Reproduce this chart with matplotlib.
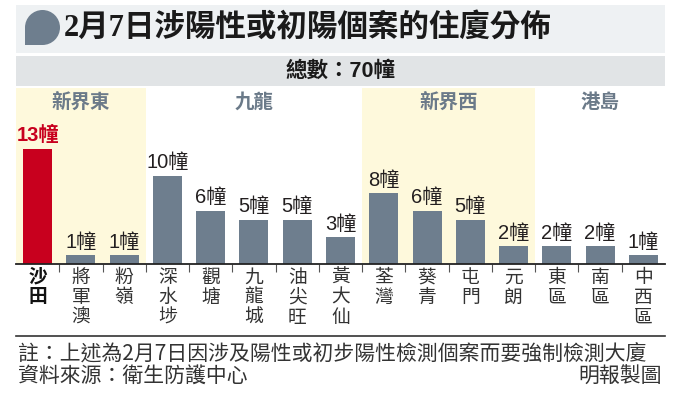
import matplotlib
matplotlib.use("Agg")
import matplotlib.pyplot as plt
from matplotlib.patches import Rectangle, Ellipse

# ---------------- data ----------------
categories = ['沙田', '將軍澳', '粉嶺', '深水埗', '觀塘', '九龍城', '油尖旺', '黃大仙',
              '荃灣', '葵青', '屯門', '元朗', '東區', '南區', '中西區']
values = [13, 1, 1, 10, 6, 5, 5, 3, 8, 6, 5, 2, 2, 2, 1]
regions = ['新界東', '九龍', '新界西', '港島']
region_sizes = [3, 5, 4, 3]
highlight = '沙田'
title = '2月7日涉陽性或初陽個案的住廈分佈'
total_label = '總數：70幢'
unit = '幢'
note1 = '註：上述為2月7日因涉及陽性或初步陽性檢測個案而要強制檢測大廈'
note2 = '資料來源：衛生防護中心'
credit = '明報製圖'

# ---------------- style ----------------
W, H = 677, 395
CJK = 'Noto Sans CJK TC'
BAR = '#6e7e8e'
RED = '#c8001e'
YELLOW = '#fef9dc'
REGION_C = '#6b7a89'

fig = plt.figure(figsize=(W / 100, H / 100), dpi=100)
fig.patch.set_facecolor('white')


def fx(px):
    return px / W


def fy(py):
    return 1 - py / H


# header bands
fig.patches.append(Rectangle((fx(16), fy(53)), fx(649), 48 / H, transform=fig.transFigure,
                             facecolor='#eef1f3', edgecolor='none', zorder=0))
fig.patches.append(Rectangle((fx(16), fy(86)), fx(649), 30 / H, transform=fig.transFigure,
                             facecolor='#e1e4e6', edgecolor='none', zorder=0))
# icon
fig.patches.append(Ellipse((fx(42.5), fy(27.5)), 35 / W, 35 / H, transform=fig.transFigure,
                           facecolor=BAR, edgecolor='none', zorder=1))
fig.patches.append(Rectangle((fx(25), fy(45)), 17.5 / W, 17.5 / H, transform=fig.transFigure,
                             facecolor=BAR, edgecolor='none', zorder=1))

fig.text(fx(64), fy(28), title, fontsize=22, fontweight='bold', color='#1a1a1a',
         family=['Liberation Serif', CJK], ha='left', va='center')
fig.text(fx(341), fy(71), total_label, fontsize=15.5, fontweight='bold', color='#1a1a1a',
         family=['Liberation Sans', CJK], ha='center', va='center')

# ---------------- chart ----------------
ax_left, ax_right, ax_top, ax_bot = 16, 665, 88, 264
ax = fig.add_axes([fx(ax_left), fy(ax_bot), (ax_right - ax_left) / W, (ax_bot - ax_top) / H])
ax.set_facecolor('white')
n = len(categories)
ax.set_xlim(-0.5, n - 0.5)
ppu = 8.85
ax.set_ylim(0, (ax_bot - ax_top) / ppu)

xs = list(range(n))
colors = [RED if c == highlight else BAR for c in categories]
ax.bar(xs, values, width=0.67, color=colors, zorder=2)

# region shading + labels
start = 0
for i, (r, s) in enumerate(zip(regions, region_sizes)):
    if i % 2 == 0:
        ax.axvspan(start - 0.5, start + s - 0.5, color=YELLOW, zorder=0, lw=0)
    ax.text(start + (s - 1) / 2, (ax_bot - 102) / (ax_bot - ax_top), r,
            transform=ax.get_xaxis_transform(), ha='center', va='center',
            fontsize=14, fontweight='bold', color=REGION_C, family=CJK)
    start += s

# value labels
for x, v, c in zip(xs, values, categories):
    hl = c == highlight
    ax.annotate(f'{v}{unit}', (x, v), xytext=(0, 2.5), textcoords='offset points',
                ha='center', va='bottom', fontsize=14.5,
                fontweight='bold' if hl else 'normal',
                color=RED if hl else '#231f20',
                family=['Liberation Sans', CJK])

# category labels (vertical)
for x, c in zip(xs, categories):
    hl = c == highlight
    for j, ch in enumerate(c):
        py = 277 + 20 * j
        ax.text(x, (ax_bot - py) / (ax_bot - ax_top), ch, transform=ax.get_xaxis_transform(),
                ha='center', va='center', fontsize=13.5,
                fontweight='bold' if hl else 'normal',
                color='#111111' if hl else '#333333', family=CJK, clip_on=False)

for s in ['top', 'left', 'right']:
    ax.spines[s].set_visible(False)
ax.spines['bottom'].set_color('#222222')
ax.spines['bottom'].set_linewidth(1.3)
ax.spines['bottom'].set_zorder(3)
ax.set_yticks([])
ax.set_xticks([i + 0.5 for i in range(n - 1)])
ax.set_xticklabels([])
ax.tick_params(axis='x', length=6, width=0.8, color='#555555', direction='out')

# separator and notes
fig.add_artist(plt.Line2D([fx(16), fx(665)], [fy(336), fy(336)], transform=fig.transFigure,
                          color='#333333', lw=1.2))
fig.text(fx(18), fy(355), note1, fontsize=15, color='#333333', family=CJK, ha='left', va='center')
fig.text(fx(18), fy(377), note2, fontsize=15, color='#333333', family=CJK, ha='left', va='center')
fig.text(fx(662), fy(377), credit, fontsize=15, color='#333333', family=CJK, ha='right', va='center')

fig.savefig('out.png', dpi=100, facecolor='white')
